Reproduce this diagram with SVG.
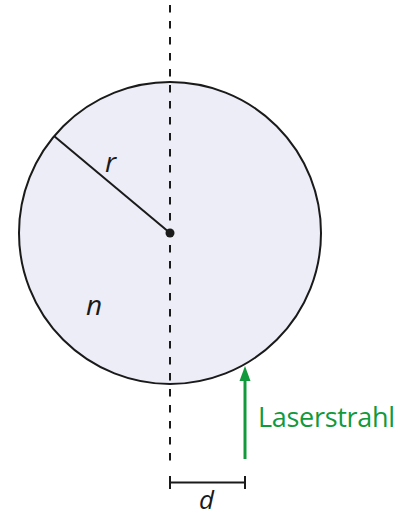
<svg xmlns="http://www.w3.org/2000/svg" width="409" height="517" viewBox="0 0 409 517">
<style>
.lbl{font-family:"Open Sans","Liberation Sans",sans-serif;font-style:italic;font-size:28px;fill:#1a1a1a}
.ln{stroke:#1a1a1a;fill:none}
</style>
<g id="sphere">
<circle cx="170" cy="233" r="151" fill="#ededf8" stroke="#1a1a1a" stroke-width="2"/>
</g>
<g id="connectors">
<line class="ln" x1="170" y1="5" x2="170" y2="461" stroke-width="2" stroke-dasharray="7.5 8.5"/>
<line class="ln" x1="54" y1="136" x2="170" y2="233" stroke-width="2"/>
<line x1="245" y1="459" x2="245" y2="381" stroke="#109a3c" stroke-width="3"/>
<path d="M239.5,381 L245,366 L250.5,381 Z" fill="#109a3c"/>
<path class="ln" d="M170,476 V489 M170,482.5 H245 M245,476 V489" stroke-width="2"/>
</g>
<g id="center"><circle cx="170" cy="233" r="4.5" fill="#1a1a1a"/></g>
<g id="labels">
<text class="lbl" x="105" y="172">r</text>
<text class="lbl" x="86" y="315">n</text>
<text class="lbl" x="199" y="509" style="font-size:26px">d</text>
<text x="258" y="427" font-family="'Open Sans','Liberation Sans',sans-serif" font-size="27" fill="#109a3c" textLength="137">Laserstrahl</text>
</g>
</svg>
